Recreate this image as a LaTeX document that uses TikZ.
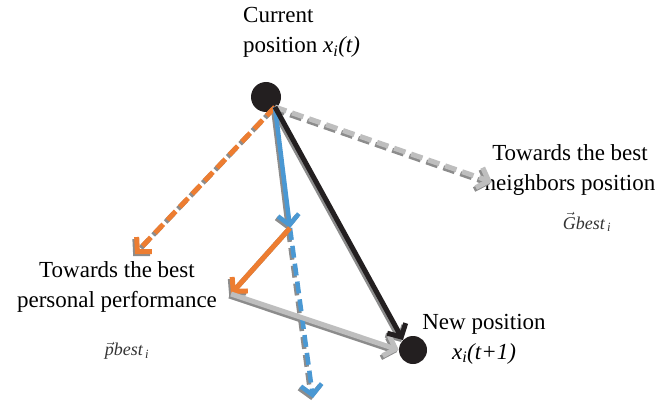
\documentclass[tikz,border=0pt]{standalone}
\usepackage{fontspec}
\setmainfont{Liberation Serif}
\usetikzlibrary{arrows.meta}
\definecolor{orangeline}{HTML}{ED7D31}
\definecolor{blueline}{HTML}{4A98D3}
\definecolor{greyline}{HTML}{BEBEBE}
\definecolor{shadeline}{HTML}{8C8C8C}
\definecolor{dotblack}{HTML}{231F20}
\tikzset{
  move/.style={line width=5pt,-{Straight Barb[length=10pt,width=21pt]}},
  hop/.style={move,dash pattern=on 12pt off 6pt},
  particle/.style={circle,fill=dotblack,inner sep=0pt,minimum size=#1},
  caption/.style={font=\fontsize{23}{30}\selectfont,align=center,inner sep=0pt},
  tag/.style={font=\fontsize{18}{20}\selectfont\itshape,text=black!80,inner sep=0pt}
}
\begin{document}
\begin{tikzpicture}[x=1pt,y=-1pt]
  \useasboundingbox (0,0) rectangle (660,403);
  % particles
  \node[particle=30pt] (now) at (266,97) {};
  \node[particle=28pt] (next) at (413,350) {};
  % turning points
  \coordinate (go) at (275,107);
  \coordinate (gtip) at (492,182);
  \coordinate (ptip) at (135,254);
  \coordinate (vel) at (290,228);
  \coordinate (pers) at (231,294);
  \coordinate (down) at (313,398);
  % texts
  \node[caption,align=left,anchor=north west] (curtext) at (243,7)
    {Current\\position \textit{x\textsubscript{i}(t)}};
  \node[caption] (gtext) at (570,170) {Towards the best\\neighbors position};
  \node[tag] (gbest) at (587,222) {$\vec{\mbox{\textit{G}}}$best\textsubscript{\,i}};
  \node[caption] (ptext) at (117,287) {Towards the best\\personal performance};
  \node[tag] (pbest) at (127,351) {$\vec{\mbox{\textit{p}}}$best\textsubscript{\,i}};
  \node[caption] (ntext) at (484,339) {New position\\\textit{x\textsubscript{i}(t+1)}};
  % shadows of the arrows
  \begin{scope}[transform canvas={shift={(-1.8pt,-2pt)}},draw=shadeline]
    \draw[hop] (go) -- (gtip);
    \draw[hop] (go) -- (ptip);
    \draw[hop,line width=4.5pt] (vel) -- (down);
    \draw[move,line width=4.5pt] (go) -- (vel);
    \draw[move] (vel) -- (pers);
    \draw[move] (pers) -- (next.west);
    \draw[move] (go) -- (next.north west);
  \end{scope}
  % components of the move
  \draw[hop,draw=greyline] (go) -- (gtip);
  \draw[hop,draw=orangeline] (go) -- (ptip);
  \draw[hop,draw=blueline,line width=4.5pt] (vel) -- (down);
  \draw[move,draw=blueline,line width=4.5pt] (go) -- (vel);
  \draw[move,draw=orangeline] (vel) -- (pers);
  \draw[move,draw=greyline] (pers) -- (next.west);
  \draw[move,draw=dotblack] (go) -- (next.north west);
\end{tikzpicture}
\end{document}
